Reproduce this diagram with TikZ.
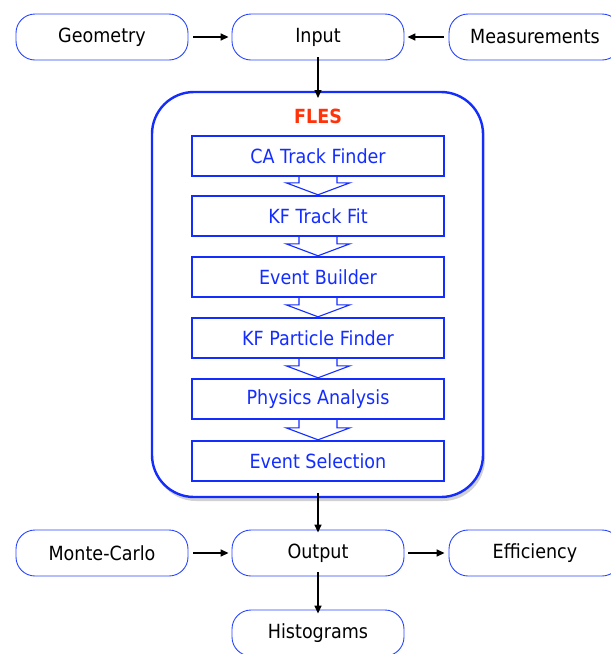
\documentclass[tikz,border=0pt]{standalone}
\usepackage{fontspec}
\setmainfont{DejaVu Sans}[FakeStretch=0.9]
\usetikzlibrary{arrows.meta,shadows,calc}
\definecolor{frameblue}{RGB}{40,70,255}
\definecolor{boxblue}{RGB}{20,45,255}
\definecolor{flesred}{RGB}{255,50,10}
\tikzset{
  pill/.style={draw=frameblue, line width=0.9pt, rounded corners=19pt, fill=white,
    minimum width=172pt, minimum height=46pt, inner sep=0pt,
    font=\fontsize{19.5}{22}\selectfont, text=black},
  stage/.style={draw=boxblue, line width=2.4pt, fill=white, minimum width=252pt,
    minimum height=40pt, inner sep=0pt, text=boxblue, font=\fontsize{19.5}{22}\selectfont},
  flesbox/.style={draw=boxblue, line width=2.4pt, rounded corners=42pt, fill=white,
    drop shadow={shadow xshift=2pt, shadow yshift=-4pt, opacity=0.18, fill=black}},
  conn/.style={line width=1.5pt, -{Triangle[length=8pt,width=7pt]}},
  hol/.style={draw=boxblue, line width=1.1pt, line join=miter}
}
\newcommand{\holarrow}[2]{%
  \draw[hol] ($(#1.south)+(-19,0)$) -- ($(#2.north)+(-19,-12)$) -- ($(#2.north)+(-32,-12)$)
    -- (#2.north) -- ($(#2.north)+(32,-12)$) -- ($(#2.north)+(19,-12)$) -- ($(#1.south)+(19,0)$);}
\begin{document}
\begin{tikzpicture}[x=1pt,y=-1pt]
\useasboundingbox (0,0) rectangle (611,654);
% FLES container
\path[flesbox] (152,92) rectangle (483,497);
\node[coordinate] (flestop) at (318,92) {};
\node[coordinate] (flesbot) at (318,497) {};
\node[text=flesred, font=\bfseries\fontsize{19.5}{22}\selectfont] (fles) at (318,116) {FLES};
% stages
\node[stage] (ca) at (318,156) {CA Track Finder};
\node[stage] (kf) at (318,216) {KF Track Fit};
\node[stage] (eb) at (318,277) {Event Builder};
\node[stage] (kfp) at (318,338) {KF Particle Finder};
\node[stage] (pa) at (318,399) {Physics Analysis};
\node[stage] (es) at (318,461) {Event Selection};
\holarrow{ca}{kf}
\holarrow{kf}{eb}
\holarrow{eb}{kfp}
\holarrow{kfp}{pa}
\holarrow{pa}{es}
% top row
\node[pill] (geo) at (102,37) {Geometry};
\node[pill] (inp) at (318,37) {Input};
\node[pill] (mea) at (535,37) {Measurements};
% bottom rows
\node[pill] (mc) at (102,553) {Monte-Carlo};
\node[pill] (out) at (318,553) {Output};
\node[pill] (eff) at (535,553) {Efficiency};
\node[pill] (his) at (318,633) {Histograms};
% connectors
\draw[conn] ([xshift=5pt]geo.east) -- ([xshift=-3pt]inp.west);
\draw[conn] ([xshift=-5pt]mea.west) -- ([xshift=3pt]inp.east);
\draw[conn] ([yshift=3pt]inp.south) -- ([yshift=-6pt]flestop);
\draw[conn] ([yshift=4pt]flesbot) -- ([yshift=-3pt]out.north);
\draw[conn] ([xshift=5pt]mc.east) -- ([xshift=-3pt]out.west);
\draw[conn] ([xshift=4pt]out.east) -- ([xshift=-4pt]eff.west);
\draw[conn] ([yshift=4pt]out.south) -- ([yshift=-4pt]his.north);
\end{tikzpicture}
\end{document}
